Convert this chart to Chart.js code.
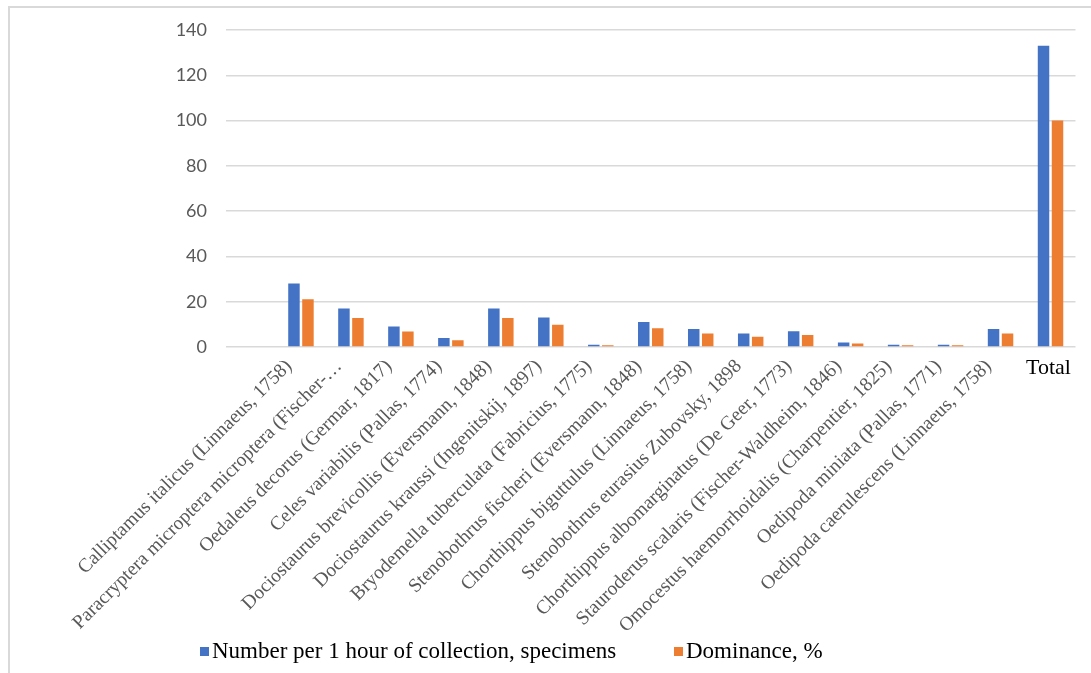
<!DOCTYPE html>
<html>
<head>
<meta charset="utf-8">
<script src="https://cdn.jsdelivr.net/npm/chart.js@4.4.1/dist/chart.umd.min.js"></script>
<style>
    body { margin: 0; background: #fff; }
    #wrap { position: relative; width: 1091px; height: 673px; overflow: hidden; }
    #frame { position: absolute; left: 8px; top: 6px; right: -10px; bottom: -10px; border-top: 2px solid #d9d9d9; border-left: 2px solid #d9d9d9; }
    #MyChart { position: absolute; left: 0; top: 0; }
    #legend { position: absolute; top: 638px; left: 0; font-family: "Liberation Serif", serif; font-size: 23px; color: #000; }
    #legend .it { position: absolute; white-space: nowrap; display: flex; align-items: center; }
    #legend .sq { width: 9px; height: 9px; margin-right: 3px; }
</style>
</head>
<body>
<div id="wrap">
    <div id="frame"></div>
    <canvas id="MyChart" width="1091" height="673"></canvas>
    <div id="legend"></div>
</div>
<script>
// first slot is an empty category, like in the original sheet
var species = [
    '',
    'Calliptamus italicus (Linnaeus, 1758)',
    'Paracryptera microptera microptera (Fischer-…',
    'Oedaleus decorus (Germar, 1817)',
    'Celes variabilis (Pallas, 1774)',
    'Dociostaurus brevicollis (Eversmann, 1848)',
    'Dociostaurus kraussi (Ingenitskij, 1897)',
    'Bryodemella tuberculata (Fabricius, 1775)',
    'Stenobothrus fischeri (Eversmann, 1848)',
    'Chorthippus biguttulus (Linnaeus, 1758)',
    'Stenobothrus eurasius Zubovsky, 1898',
    'Chorthippus albomarginatus (De Geer, 1773)',
    'Stauroderus scalaris (Fischer-Waldheim, 1846)',
    'Omocestus haemorrhoidalis (Charpentier, 1825)',
    'Oedipoda miniata (Pallas, 1771)',
    'Oedipoda caerulescens (Linnaeus, 1758)',
    'Total'
];
var numberPerHour = [null, 28, 17, 9, 4, 17, 13, 1, 11, 8, 6, 7, 2, 1, 1, 8, 133];
var dominance = [null, 21.1, 12.8, 6.8, 3.0, 12.8, 9.8, 0.8, 8.3, 6.0, 4.5, 5.3, 1.5, 0.8, 0.8, 6.0, 100];
var yTicks = [0, 20, 40, 60, 80, 100, 120, 140];

var seriesNames = ['Number per 1 hour of collection, specimens', 'Dominance, %'];
var seriesColors = ['#4472C4', '#ED7D31'];

// "Total" sits flat under its bars, the species names are slanted
var totalLabel = {
    id: 'totalLabel',
    afterDraw: function (chart) {
        var x = chart.scales.x;
        var i = species.indexOf('Total');
        var ctx = chart.ctx;
        ctx.save();
        ctx.font = '22px "Liberation Serif"';
        ctx.fillStyle = '#000';
        ctx.textAlign = 'center';
        ctx.textBaseline = 'middle';
        ctx.fillText('Total', x.getPixelForValue(i) - 2, x.top + 21);
        ctx.restore();
    }
};

var MyChart = new Chart(document.getElementById('MyChart'), {
    type: 'bar',
    data: {
        labels: species,
        datasets: [{
            label: seriesNames[0],
            data: numberPerHour,
            backgroundColor: seriesColors[0],
            barPercentage: 0.82,
            categoryPercentage: 0.56
        }, {
            label: seriesNames[1],
            data: dominance,
            backgroundColor: seriesColors[1],
            barPercentage: 0.82,
            categoryPercentage: 0.56
        }]
    },
    options: {
        responsive: false,
        animation: false,
        layout: { padding: { top: 30, right: 15.5, bottom: 0, left: 0 } },
        plugins: {
            legend: { display: false },
            tooltip: { enabled: false }
        },
        scales: {
            x: {
                grid: { display: false },
                border: { display: false },
                ticks: {
                    autoSkip: false,
                    minRotation: 45,
                    maxRotation: 45,
                    padding: 0,
                    labelOffset: -12,
                    color: '#595959',
                    font: { family: 'Liberation Serif', size: 19.5 },
                    callback: function (v, i) {
                        return species[i] == 'Total' ? '' : species[i];
                    }
                },
                afterFit: function (s) { s.height = 326; }
            },
            y: {
                min: 0,
                max: 140,
                afterBuildTicks: function (s) {
                    s.ticks = yTicks.map(function (v) { return { value: v }; });
                },
                grid: { color: '#d9d9d9', lineWidth: 1.5, drawTicks: false },
                border: { display: false },
                ticks: {
                    padding: 19,
                    color: '#595959',
                    font: { family: 'Lato', size: 18 }
                },
                afterFit: function (s) { s.width = 226; }
            }
        }
    },
    plugins: [totalLabel]
});

// legend below the chart
var legendLeft = [200, 674];
var legend = document.getElementById('legend');
MyChart.data.datasets.forEach(function (ds, i) {
    var it = document.createElement('div');
    it.className = 'it';
    it.style.left = legendLeft[i] + 'px';
    it.innerHTML = '<span class="sq" style="background:' + ds.backgroundColor + '"></span>' + ds.label;
    legend.appendChild(it);
});
</script>
</body>
</html>
